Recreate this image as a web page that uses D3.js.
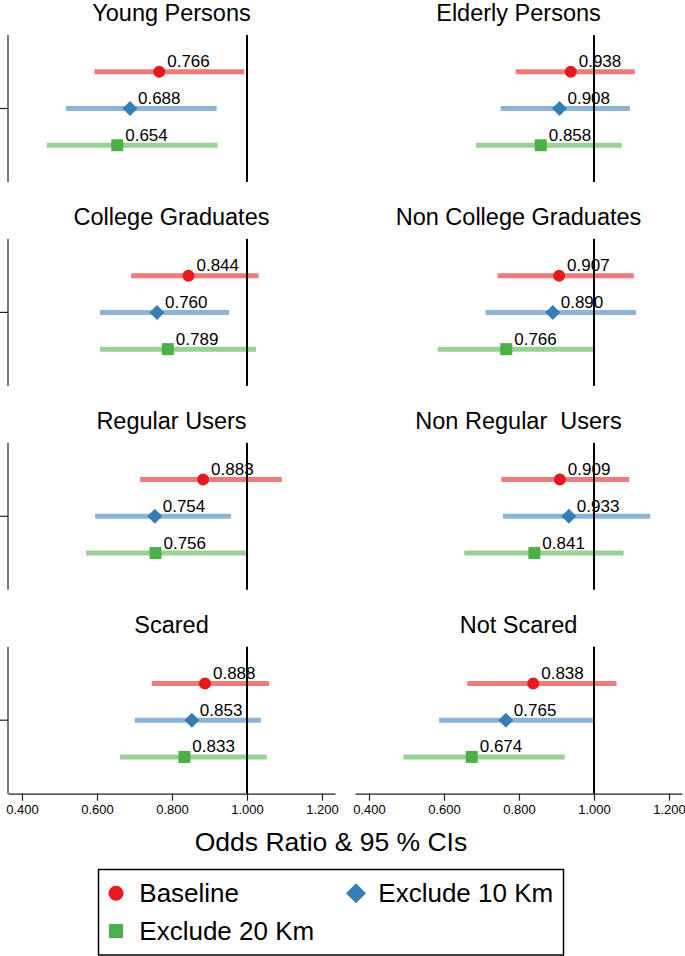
<!DOCTYPE html>
<html>
<head>
<meta charset="utf-8">
<script src="https://cdn.jsdelivr.net/npm/d3@7"></script>
<style>
  html, body { margin: 0; padding: 0; background: #fff; }
  svg { display: block; }
  text { font-family: "Liberation Sans", Arial, Helvetica, sans-serif; fill: #000; white-space: pre; }
</style>
</head>
<body>
<svg id="chart" width="685" height="956"></svg>
<script>
// ---- Data ----
const panelTitles = ["Young Persons", "Elderly Persons", "College Graduates", "Non College Graduates",
                     "Regular Users", "Non Regular  Users", "Scared", "Not Scared"];
const seriesNames = ["Baseline", "Exclude 10 Km", "Exclude 20 Km"];
const seriesColors = ["#e41a1c", "#377eb8", "#4daf4a"];

const baselineOR = [0.766, 0.938, 0.844, 0.907, 0.883, 0.909, 0.888, 0.838];
const baselineLo = [0.593, 0.791, 0.691, 0.743, 0.715, 0.753, 0.746, 0.662];
const baselineHi = [0.993, 1.109, 1.031, 1.106, 1.093, 1.094, 1.059, 1.060];

const excl10OR = [0.688, 0.908, 0.760, 0.890, 0.754, 0.933, 0.853, 0.765];
const excl10Lo = [0.517, 0.751, 0.608, 0.711, 0.595, 0.757, 0.701, 0.587];
const excl10Hi = [0.919, 1.096, 0.952, 1.112, 0.957, 1.150, 1.037, 0.997];

const excl20OR = [0.654, 0.858, 0.789, 0.766, 0.756, 0.841, 0.833, 0.674];
const excl20Lo = [0.466, 0.685, 0.608, 0.583, 0.571, 0.654, 0.661, 0.492];
const excl20Hi = [0.922, 1.074, 1.024, 1.003, 1.003, 1.079, 1.053, 0.922];

const xTicks = [0.4, 0.6, 0.8, 1.0, 1.2];
const xDomain = [0.3627, 1.2347];
const refValue = 1.0;
const axisTitle = "Odds Ratio & 95 % CIs";

const seriesData = [
  { or: baselineOR, lo: baselineLo, hi: baselineHi },
  { or: excl10OR, lo: excl10Lo, hi: excl10Hi },
  { or: excl20OR, lo: excl20Lo, hi: excl20Hi }
];
// circle, diamond (rotated square), square
const symbols = [d3.symbolCircle, d3.symbolSquare, d3.symbolSquare];
const rotations = [0, 45, 0];

// ---- Layout ----
const svg = d3.select("#chart");
const colX = [[8, 335], [355, 682]];
const rowTop = r => 35 + r * 203.9;
const plotH = 147;
const fmt = d3.format(".3f");

panelTitles.forEach((title, i) => {
  const col = i % 2, row = Math.floor(i / 2);
  const top = rowTop(row);
  const x = d3.scaleLinear().domain(xDomain).range(colX[col]);
  const y = d3.scaleLinear().domain([0, 4]).range([top, top + plotH]);
  const g = svg.append("g");

  // title
  g.append("text")
    .attr("x", (colX[col][0] + colX[col][1]) / 2)
    .attr("y", top - 14)
    .attr("text-anchor", "middle")
    .style("font-size", "23.5px")
    .text(title);

  // left y axis (only left column)
  if (col === 0) {
    g.append("line").attr("x1", colX[0][0]).attr("x2", colX[0][0])
      .attr("y1", top).attr("y2", top + plotH)
      .attr("stroke", "#222").attr("stroke-width", 1.2);
    g.append("line").attr("x1", 0).attr("x2", colX[0][0])
      .attr("y1", y(2)).attr("y2", y(2))
      .attr("stroke", "#222").attr("stroke-width", 1.2);
  }

  // x axis on bottom row
  if (row === 3) {
    const ax = g.append("g")
      .attr("transform", `translate(0,${top + plotH})`)
      .call(d3.axisBottom(x).tickValues(xTicks).tickFormat(fmt).tickSize(7).tickSizeOuter(0).tickPadding(4));
    ax.attr("font-size", 13).attr("font-family", "'Liberation Sans', Arial, Helvetica, sans-serif");
    ax.select(".domain").attr("stroke", "#222").attr("stroke-width", 1.2);
    ax.selectAll(".tick line").attr("stroke", "#222").attr("stroke-width", 1.2);
    ax.selectAll(".tick text").style("font-size", "13px").attr("fill", "#000");
  }

  // CI lines
  seriesData.forEach((s, k) => {
    g.append("line")
      .attr("x1", x(s.lo[i])).attr("x2", x(s.hi[i]))
      .attr("y1", y(k + 1)).attr("y2", y(k + 1))
      .attr("stroke", seriesColors[k]).attr("stroke-opacity", 0.58)
      .attr("stroke-width", 5);
  });

  // reference line
  g.append("line")
    .attr("x1", x(refValue)).attr("x2", x(refValue))
    .attr("y1", top).attr("y2", top + plotH)
    .attr("stroke", "#000").attr("stroke-width", 2);

  // markers and labels
  const sizes = [113, 112, 144];
  seriesData.forEach((s, k) => {
    g.append("path")
      .attr("d", d3.symbol().type(symbols[k]).size(sizes[k])())
      .attr("transform", `translate(${x(s.or[i])},${y(k + 1)}) rotate(${rotations[k]})`)
      .attr("fill", seriesColors[k]);
    g.append("text")
      .attr("x", x(s.or[i]) + 8)
      .attr("y", y(k + 1) - 4.5)
      .style("font-size", "17px")
      .text(fmt(s.or[i]));
  });
});

// axis title
svg.append("text")
  .attr("x", 331).attr("y", 851)
  .attr("text-anchor", "middle")
  .style("font-size", "26.5px")
  .text(axisTitle);

// legend
const lg = svg.append("g");
lg.append("rect").attr("x", 98.5).attr("y", 869.5).attr("width", 465).attr("height", 85.5)
  .attr("fill", "none").attr("stroke", "#000").attr("stroke-width", 1.5);
const legendPos = [
  { mx: 116, my: 893.3, tx: 139.3, ty: 901.7 },
  { mx: 356, my: 893.3, tx: 378.3, ty: 901.7 },
  { mx: 116, my: 931, tx: 139.3, ty: 940 }
];
const legendSizes = [177, 200, 196];
seriesNames.forEach((name, k) => {
  const p = legendPos[k];
  lg.append("path")
    .attr("d", d3.symbol().type(symbols[k]).size(legendSizes[k])())
    .attr("transform", `translate(${p.mx},${p.my}) rotate(${rotations[k]})`)
    .attr("fill", seriesColors[k]);
  lg.append("text").attr("x", p.tx).attr("y", p.ty)
    .style("font-size", "26px").text(name);
});
</script>
</body>
</html>
